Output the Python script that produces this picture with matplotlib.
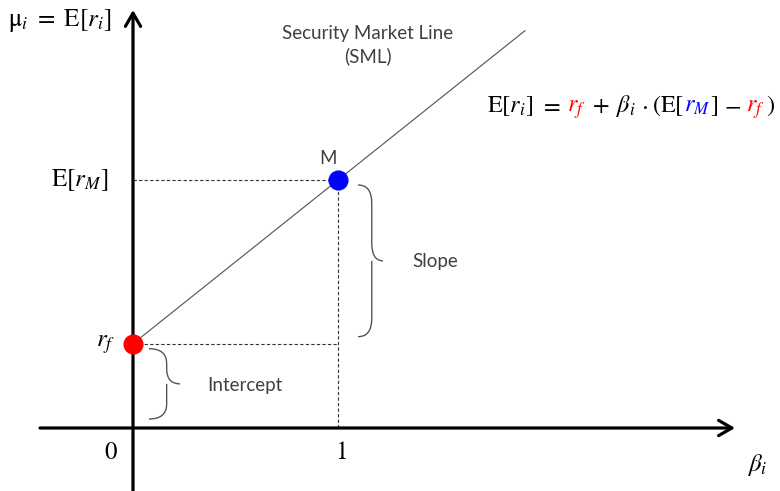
import matplotlib
matplotlib.use("Agg")
import matplotlib.pyplot as plt
from matplotlib.path import Path
from matplotlib.patches import PathPatch

# ---- data ----
rf = 0.034          # risk-free rate (intercept)
rM = 0.100          # expected market return
beta_points = [0.0, 1.0]
point_returns = [rf, rM]
point_colors = ["#ff0000", "#0000ff"]
sml_beta_range = [0.0, 1.912]
x_tick_values = [0, 1]
x_tick_labels = ["0", "1"]

plt.rcParams["mathtext.fontset"] = "stix"
SANS = ["Lato", "DejaVu Sans"]
GRAY = "#404040"

W, H = 780, 491
fig = plt.figure(figsize=(W / 100, H / 100), dpi=100)
ax = fig.add_axes([0, 0, 1, 1])
ax.set_axis_off()

# pixel layout -> data scale
ox, oy = 133, 428          # origin pixel
sx = 205.0                 # px per beta unit
sy = 2480.0                # px per return unit
ax.set_xlim(-ox / sx, (W - ox) / sx)
ax.set_ylim((oy - H) / sy, oy / sy)

def dx(p):  # pixel length -> beta units
    return p / sx

def dy(p):  # pixel length -> return units
    return p / sy

# axes arrows
arrow_kw = dict(arrowstyle="->,head_length=0.95,head_width=0.55", lw=2.3, color="black",
                shrinkA=0, shrinkB=0)
ax.annotate("", xy=(dx(735 - ox), 0), xytext=(dx(40 - ox), 0), arrowprops=arrow_kw)
ax.annotate("", xy=(0, dy(oy - 10)), xytext=(0, dy(oy - 492)), arrowprops=arrow_kw)

# SML line
sml_y = [rf + b * (rM - rf) for b in sml_beta_range]
ax.plot(sml_beta_range, sml_y, color="#5a5a5a", lw=0.85, zorder=2)

# dashed guide lines
dash = dict(color="#333333", lw=0.8, ls=(0, (3, 2)), zorder=1)
ax.plot([0, beta_points[1]], [rM, rM], **dash)
ax.plot([beta_points[1], beta_points[1]], [0, rM], **dash)
ax.plot([0, beta_points[1]], [rf, rf], **dash)

# points
for b, r, c in zip(beta_points, point_returns, point_colors):
    ax.plot([b], [r], "o", ms=13.5, color=c, zorder=5, mec=c)

# curly braces
def brace(x0, y_top, y_bot, w, xm_frac=0.55, curl=None):
    xm = x0 + w * xm_frac
    ymid = (y_top + y_bot) / 2
    r = curl if curl is not None else dy(16)
    verts = [
        (x0, y_top), (xm, y_top), (xm, y_top - r),
        (xm, ymid + r),
        (xm, ymid), (x0 + w, ymid),
        (xm, ymid), (xm, ymid - r),
        (xm, y_bot + r),
        (xm, y_bot), (x0, y_bot),
    ]
    codes = [Path.MOVETO, Path.CURVE3, Path.CURVE3,
             Path.LINETO,
             Path.CURVE3, Path.CURVE3,
             Path.MOVETO, Path.CURVE3,
             Path.LINETO,
             Path.CURVE3, Path.CURVE3]
    ax.add_patch(PathPatch(Path(verts, codes), fill=False, ec="#555555", lw=1.0, zorder=3))

brace(beta_points[1] + dx(20), rM - dy(5), rf + dy(7), dx(25), curl=dy(18))
brace(dx(16), rf - dy(5), dy(9), dx(31), xm_frac=0.57, curl=dy(15))

# sans labels
SS = 13.5
ax.text(beta_points[1] + dx(74), (rf + rM) / 2, "Slope", fontsize=SS, family=SANS,
        color=GRAY, ha="left", va="center")
ax.text(dx(74), rf / 2, "Intercept", fontsize=SS, family=SANS,
        color=GRAY, ha="left", va="center")
ax.text(beta_points[1] - dx(10), rM + dy(21), "M", fontsize=SS, family=SANS,
        color=GRAY, ha="center", va="center")
ax.text(dx(368 - ox), dy(oy - 45), "Security Market Line\n(SML)", fontsize=SS,
        family=SANS, color=GRAY, ha="center", va="center", linespacing=1.3)

# math labels
MS = 18
ax.text(dx(8 - ox), dy(oy - 20), r"$\mathrm{\mu}_i\ =\ \mathrm{E}[r_i]$", fontsize=MS,
        ha="left", va="center")
ax.text(dx(-25), rM, r"$\mathrm{E}[r_M]$", fontsize=MS, ha="right", va="center")
ax.text(dx(-18), rf, r"$r_f$", fontsize=MS, ha="right", va="center")
for v, lab in zip(x_tick_values, x_tick_labels):
    ax.text(v + (dx(-22) if v == 0 else dx(3)), -dy(25), lab, fontsize=MS,
            family="STIXGeneral", ha="center", va="center")
ax.text(dx(757 - ox), -dy(37), r"$\beta_i$", fontsize=MS, ha="center", va="center")

# colored formula built from pieces, fitted between x=487 and x=775
pieces = [
    (r"$\mathrm{E}[r_i]$", "black", 0),
    (r"$=$", "black", 6),
    (r"$r_f$", "#ff0000", 6),
    (r"$+$", "black", 6),
    (r"$\beta_i$", "black", 6),
    (r"$\cdot$", "black", 4),
    (r"$(\mathrm{E}[$", "black", 4),
    (r"$r_M$", "#0000ff", 0),
    (r"$]$", "black", 0),
    (r"$-$", "black", 5),
    (r"$r_f$", "#ff0000", 5),
    (r"$)$", "black", 1),
]
FS = 17.5
fig.canvas.draw()
renderer = fig.canvas.get_renderer()
x_start, x_end = 487, 775
ypix_base = H - 112
widths = []
texts = []
for txt, col, gap in pieces:
    t = fig.text(0, ypix_base / H, txt, fontsize=FS, color=col,
                 ha="left", va="baseline")
    widths.append(t.get_window_extent(renderer).width)
    texts.append(t)
gaps = [g for _, _, g in pieces]
extra = (x_end - x_start) - sum(widths) - sum(gaps)
gsum = sum(gaps)
xpix = x_start
for t, w, g in zip(texts, widths, gaps):
    xpix += g + (extra * g / gsum if gsum else 0)
    t.set_x(xpix / W)
    xpix += w

fig.savefig("out.png", dpi=100)
